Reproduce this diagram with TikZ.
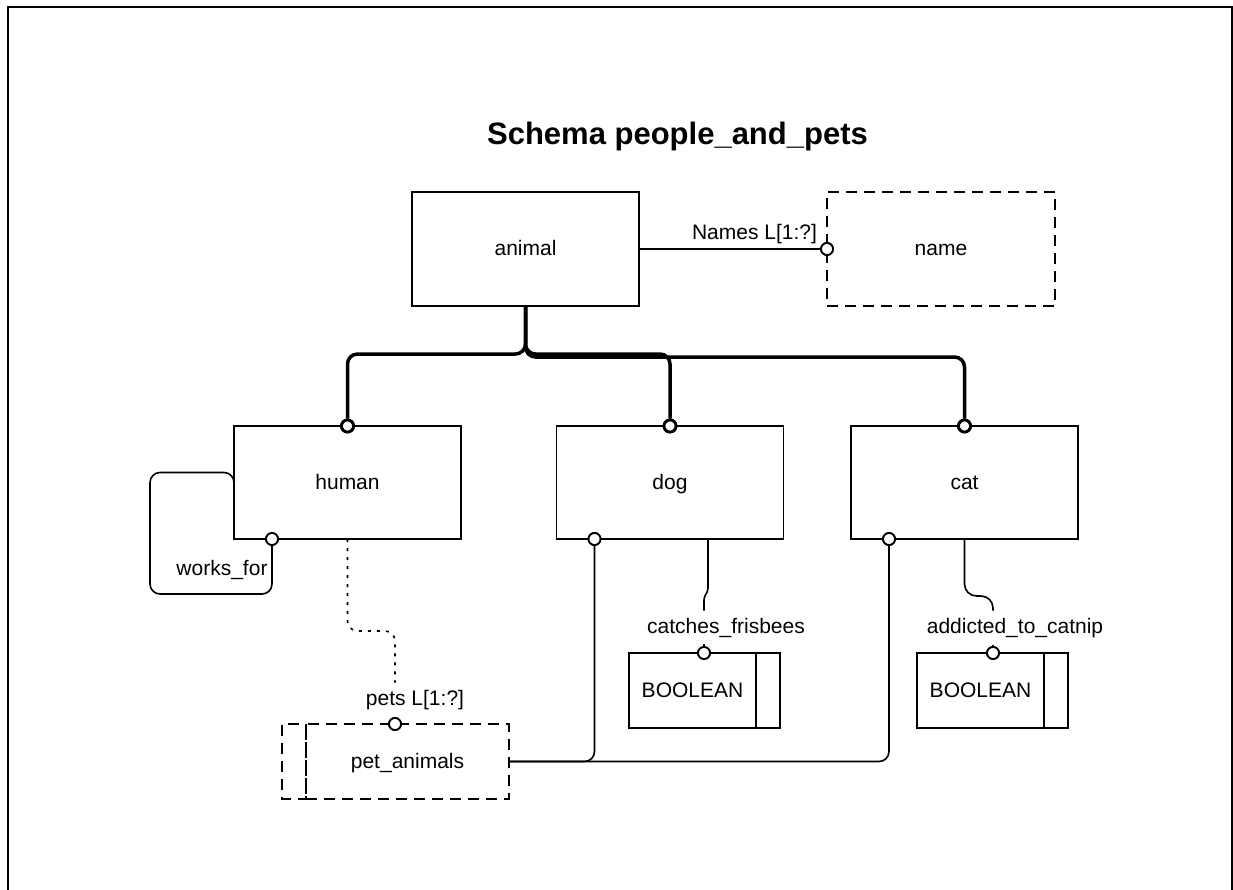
\documentclass[tikz,border=0pt]{standalone}
\usepackage{fontspec}
\setmainfont{Liberation Sans}
\begin{document}
\begin{tikzpicture}[x=1pt,y=-1pt,
  every node/.style={font=\fontsize{21}{25}\selectfont},
  box/.style={draw, line width=1.8pt, inner sep=0pt, outer sep=0pt, text height=15pt, text depth=2pt},
  dashbox/.style={box, dash pattern=on 11pt off 7pt},
  dashedge/.style={line width=1.8pt, dash pattern=on 11pt off 7pt},
  edge/.style={line width=1.8pt},
  ring/.style={circle, draw, fill=white, inner sep=0pt, minimum size=12pt, line width=1.8pt},
  heavyring/.style={ring, line width=2.8pt},
  link/.style={line width=1.6pt},
  heavy/.style={line width=3.5pt, rounded corners=10pt},
  dots/.style={line width=1.6pt, dash pattern=on 3pt off 6pt, rounded corners=10pt},
  lbl/.style={anchor=base, inner xsep=0pt, inner ysep=7pt}
]
\useasboundingbox (0,0) rectangle (1233,890);

% outer frame (open at the bottom)
\draw[line width=2pt] (8,890) -- (8,7) -- (1232,7) -- (1232,890);

% title
\node[lbl, font=\fontsize{31}{36}\selectfont\bfseries] (title) at (677.5,145) {Schema people\_and\_pets};

% entities
\node[box, minimum width=227pt, minimum height=114pt] (animal) at (525.5,249) {animal};
\node[dashbox, minimum width=228pt, minimum height=114pt] (name) at (941,249) {name};
\node[box, minimum width=227pt, minimum height=113pt] (human) at (347.5,482.5) {human};
\node[box, minimum width=227pt, minimum height=113pt] (dog) at (670,482.5) {dog};
\node[box, minimum width=227pt, minimum height=113pt] (cat) at (964.5,482.5) {cat};

% aggregate and simple types
\node[dashbox, minimum width=203pt, minimum height=75pt] (pets) at (407.5,761.5) {pet\_animals};
\draw[dashedge] (pets.north west) rectangle ++(-24,75);
\node[box, minimum width=127pt, minimum height=75pt] (boolA) at (692.5,690.5) {BOOLEAN};
\draw[edge] (boolA.north east) rectangle ++(24,75);
\node[box, minimum width=127pt, minimum height=75pt] (boolB) at (980.5,690.5) {BOOLEAN};
\draw[edge] (boolB.north east) rectangle ++(24,75);

% relationship circles
\node[heavyring] (tHum) at (human.north) {};
\node[heavyring] (tDog) at (dog.north) {};
\node[heavyring] (tCat) at (cat.north) {};
\node[ring] (rName) at (name.west) {};
\node[ring] (rWork) at ([xshift=38pt]human.south west) {};
\node[ring] (rPets) at ([xshift=-12.5pt]pets.north) {};
\node[ring] (rDogB) at ([xshift=38pt]dog.south west) {};
\node[ring] (rCatB) at ([xshift=38pt]cat.south west) {};
\node[ring] (rBoolA) at ([xshift=11.5pt]boolA.north) {};
\node[ring] (rBoolB) at ([xshift=12.5pt]boolB.north) {};

% labels
\node[lbl] (lNames) at (754.5,240) {Names L[1:?]};
\node[lbl] (lWork) at (222,575) {works\_for};
\node[lbl] (lPets) at (415,705) {pets L[1:?]};
\node[lbl] (lCatch) at (726,633) {catches\_frisbees};
\node[lbl] (lAddict) at (1015,633) {addicted\_to\_catnip};

% animal -> name
\draw[link] (animal.east) -- (rName.west);

% supertype tree
\coordinate (fork) at (525.5,354);
\draw[heavy] (animal.south) -- (fork) -| (tHum.north);
\draw[heavy] (animal.south) -- (fork) -| (tDog.north);
\draw[heavy] (animal.south) -- ([yshift=-3pt]fork) -| (tCat.north);

% works_for loop
\coordinate (wfA) at (150,594);
\coordinate (wfB) at (234,472.5);
\draw[link, rounded corners=10pt] (rWork.south) |- (wfA) |- (wfB) -- (human.west);

% pets
\coordinate (petBend) at (395,631);
\draw[dots] (human.south) |- (petBend) -- (lPets.north -| rPets.north);
\draw[link, dash pattern=on 3pt off 3pt] (lPets.south -| rPets.north) -- (rPets.north);

% dog and cat into pet_animals
\draw[link, rounded corners=10pt] (pets.east) -| (rDogB.south);
\draw[link, rounded corners=10pt] (pets.east) -| (rCatB.south);

% catches_frisbees
\draw[link, rounded corners=3pt] ([xshift=38pt]dog.south) -- ++(0,52) -- ++(-4,6) -- (lCatch.north -| rBoolA.north);
\draw[link] (lCatch.south -| rBoolA.north) -- (rBoolA.north);

% addicted_to_catnip
\draw[link, rounded corners=12pt] (cat.south) -- ++(0,57) -| (lAddict.north -| rBoolB.north);
\draw[link] (lAddict.south -| rBoolB.north) -- (rBoolB.north);

% redraw circles above the connectors
\foreach \r in {tHum,tDog,tCat} \node[heavyring] at (\r) {};
\foreach \r in {rName,rWork,rPets,rDogB,rCatB,rBoolA,rBoolB} \node[ring] at (\r) {};
\end{tikzpicture}
\end{document}
